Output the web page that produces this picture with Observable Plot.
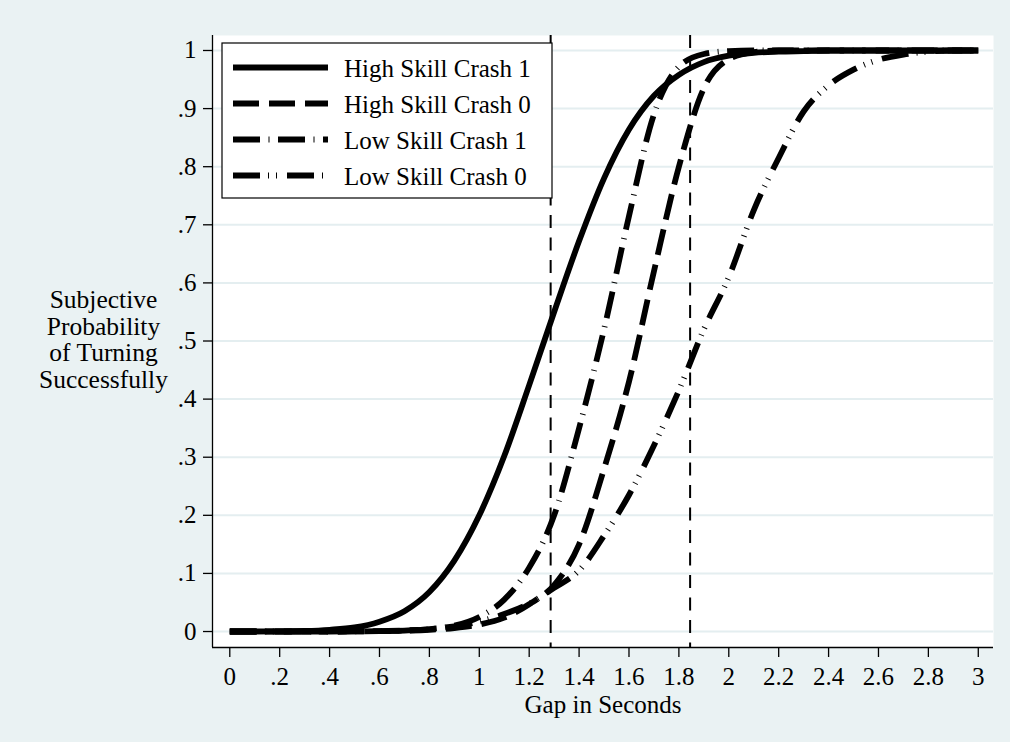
<!DOCTYPE html>
<html>
<head>
<meta charset="utf-8">
<script src="https://cdn.jsdelivr.net/npm/d3@7"></script>
<script src="https://cdn.jsdelivr.net/npm/@observablehq/plot@0.6"></script>
<style>
  html, body { margin: 0; padding: 0; background: #eaf2f3; }
  #chart { width: 1010px; height: 742px; }
</style>
</head>
<body>
<div id="chart"></div>
<script>
// Gap between vehicles (seconds) at which each probability is recorded
const gap = [0, 0.1, 0.2, 0.3, 0.4, 0.5, 0.6, 0.7, 0.8, 0.9, 1, 1.1, 1.2, 1.3, 1.4, 1.5,
             1.6, 1.7, 1.8, 1.9, 2, 2.1, 2.2, 2.3, 2.4, 2.5, 2.6, 2.7, 2.8, 2.9, 3];

// Subjective probability of turning successfully, one array per group
const highSkillCrash1 = [0, 0, 0.0003, 0.001, 0.003, 0.007, 0.017, 0.035, 0.068, 0.122, 0.2,
                         0.302, 0.424, 0.55, 0.672, 0.78, 0.864, 0.922, 0.958, 0.98, 0.991,
                         0.996, 0.998, 0.999, 1, 1, 1, 1, 1, 1, 1];
const highSkillCrash0 = [0, 0, 0, 0, 0, 0.0003, 0.0008, 0.0015, 0.003, 0.006, 0.012,
                         0.024, 0.047, 0.08, 0.15, 0.28, 0.43, 0.62, 0.8, 0.935, 0.985,
                         0.997, 1, 1, 1, 1, 1, 1, 1, 1, 1];
const lowSkillCrash1  = [0, 0, 0, 0, 0, 0.0002, 0.0006, 0.0015, 0.004, 0.01, 0.025,
                         0.055, 0.11, 0.2, 0.35, 0.52, 0.715, 0.89, 0.972, 0.994, 0.999,
                         1, 1, 1, 1, 1, 1, 1, 1, 1, 1];
const lowSkillCrash0  = [0, 0, 0, 0, 0, 0.0003, 0.0007, 0.0015, 0.004, 0.009, 0.017,
                         0.03, 0.048, 0.075, 0.105, 0.165, 0.235, 0.32, 0.415, 0.52, 0.61,
                         0.725, 0.815, 0.895, 0.94, 0.967, 0.984, 0.993, 0.998, 1, 1];

const seriesNames = ["High Skill Crash 1", "High Skill Crash 0", "Low Skill Crash 1", "Low Skill Crash 0"];
const seriesValues = [highSkillCrash1, highSkillCrash0, lowSkillCrash1, lowSkillCrash0];

// Reference gaps marked with vertical lines
const refGaps = [1.286, 1.845];

// Axis ticks and their labels
const xTicks = [0, 0.2, 0.4, 0.6, 0.8, 1, 1.2, 1.4, 1.6, 1.8, 2, 2.2, 2.4, 2.6, 2.8, 3];
const xTickLabels = ["0", ".2", ".4", ".6", ".8", "1", "1.2", "1.4", "1.6", "1.8", "2", "2.2", "2.4", "2.6", "2.8", "3"];
const yTicks = [0, 0.1, 0.2, 0.3, 0.4, 0.5, 0.6, 0.7, 0.8, 0.9, 1];
const yTickLabels = ["0", ".1", ".2", ".3", ".4", ".5", ".6", ".7", ".8", ".9", "1"];

const xTitle = "Gap in Seconds";
const yTitle = "Subjective\nProbability\nof Turning\nSuccessfully";

// Line pattern per group
const dashes = ["none", "26,10", "27,8.5,1,8.5", "27,8,1,7,1,10"];

const rows = seriesNames.flatMap((name, s) =>
  gap.map((g, i) => ({series: name, gap: g, p: seriesValues[s][i]}))
);

const xDomain = [-0.0693, 3.061];
const yDomain = [-0.0275, 1.0258];
const font = "'Liberation Serif', 'Times New Roman', serif";
const fontSize = 25;
const lineWidth = 5.8;
const margin = {left: 212, right: 17, top: 35, bottom: 95};

const chart = Plot.plot({
  width: 1010,
  height: 742,
  marginLeft: margin.left,
  marginRight: margin.right,
  marginTop: margin.top,
  marginBottom: margin.bottom,
  style: {background: "#eaf2f3", fontFamily: font, fontSize: fontSize + "px", color: "#000"},
  x: {domain: xDomain, label: null},
  y: {domain: yDomain, label: null},
  marks: [
    Plot.frame({fill: "white", stroke: "none"}),
    Plot.gridY(yTicks, {stroke: "#e4eef0", strokeOpacity: 1, strokeWidth: 2}),
    Plot.ruleX(refGaps, {stroke: "#000", strokeWidth: 2, strokeDasharray: "13,9.5"}),
    ...seriesNames.map((name, s) =>
      Plot.line(rows.filter(d => d.series === name), {
        x: "gap", y: "p",
        stroke: "#000",
        strokeWidth: lineWidth,
        strokeLinecap: "butt",
        strokeLinejoin: "round",
        strokeDasharray: dashes[s],
        curve: "monotone-x"
      })
    ),
    Plot.ruleY([yDomain[0]], {stroke: "#000", strokeWidth: 1.3}),
    Plot.ruleX([xDomain[0]], {stroke: "#000", strokeWidth: 1.3}),
    Plot.axisX(xTicks, {
      tickFormat: d => xTickLabels[xTicks.indexOf(d)],
      tickSize: 10, tickPadding: 10, stroke: "#000", strokeWidth: 1.3,
      fontSize, label: null
    }),
    Plot.axisY(yTicks, {
      tickFormat: d => yTickLabels[yTicks.indexOf(d)],
      tickSize: 9, tickPadding: 7, stroke: "#000", strokeWidth: 1.3,
      fontSize, label: null
    }),
    Plot.text([xTitle], {frameAnchor: "bottom", dy: 57, lineAnchor: "middle", fontSize}),
    Plot.text([yTitle], {
      frameAnchor: "left", dx: -109, dy: -2,
      textAnchor: "middle", lineAnchor: "middle", lineHeight: 1.04, fontSize: 25.5
    })
  ]
});

// Legend box in the upper-left corner of the plotting area
const svg = d3.select(chart);
const legendX = margin.left + 10, legendY = margin.top + 8;
const legend = svg.append("g")
  .attr("font-family", font)
  .attr("font-size", fontSize)
  .attr("text-anchor", "start");
legend.append("rect")
  .attr("x", legendX).attr("y", legendY)
  .attr("width", 330).attr("height", 155)
  .attr("fill", "white").attr("stroke", "#000").attr("stroke-width", 1.2);
seriesNames.forEach((name, s) => {
  const cy = legendY + 24.5 + s * 36;
  legend.append("line")
    .attr("x1", legendX + 11).attr("x2", legendX + 106)
    .attr("y1", cy).attr("y2", cy)
    .attr("stroke", "#000").attr("stroke-width", lineWidth)
    .attr("stroke-dasharray", dashes[s]);
  legend.append("text")
    .attr("x", legendX + 122).attr("y", cy + 9)
    .attr("fill", "#000")
    .text(name);
});

document.getElementById("chart").append(chart);
</script>
</body>
</html>
